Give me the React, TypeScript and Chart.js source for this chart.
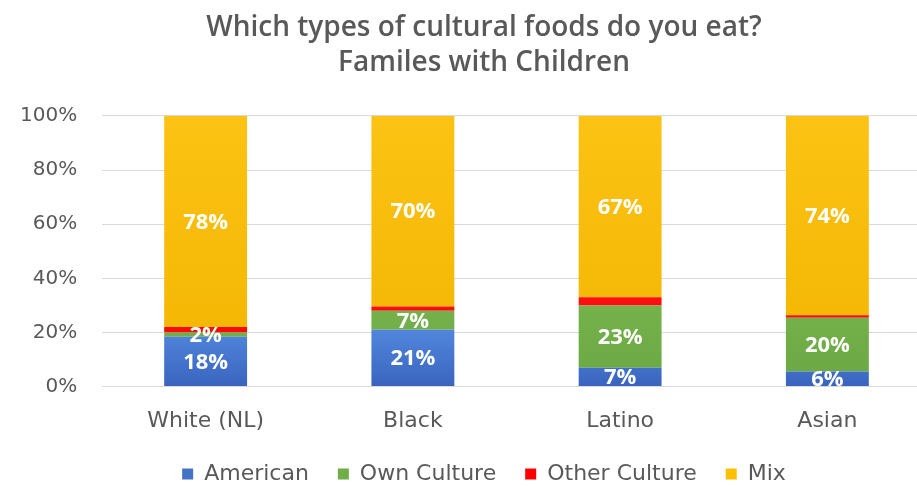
import React, { useEffect, useRef } from "react";
import { Chart, registerables } from "chart.js";

Chart.register(...registerables);

const categories = ["White (NL)", "Black", "Latino", "Asian"];
const seriesNames = ["American", "Own Culture", "Other Culture", "Mix"];
const american = [18.4, 21, 7, 5.6];
const ownCulture = [1.6, 7, 23, 19.8];
const otherCulture = [2, 1.6, 3, 1];
const mix = [78, 70.4, 67, 73.6];
const yTicks = [0, 20, 40, 60, 80, 100];
const titleLines = ["Which types of cultural foods do you eat?", "Familes with Children"];
const showLabel = [true, true, false, true];

const solid = ["#4472C4", "#70AD47", "#FF0000", "#FFC000"];
// gradient stops: [bottom colour, top colour, top fraction of chart height]
const grads: [string, string, number][] = [
  ["#3A64BE", "#5288DE", 0.22],
  ["#6AA843", "#76B24C", 0.32],
  ["#F00000", "#FF1010", 0.35],
  ["#F2B400", "#FCC314", 1],
];

function bg(i: number) {
  return (c: any) => {
    const a = c.chart.chartArea;
    if (!a) return solid[i];
    const g = c.chart.ctx.createLinearGradient(0, a.bottom, 0, a.bottom - (a.bottom - a.top) * grads[i][2]);
    g.addColorStop(0, grads[i][0]);
    g.addColorStop(1, grads[i][1]);
    return g;
  };
}

const labelPlugin = {
  id: "segLabels",
  afterDatasetsDraw(chart: any) {
    const ctx = chart.ctx;
    ctx.save();
    ctx.font = "bold 22px 'Open Sans'";
    ctx.fillStyle = "#FFFFFF";
    ctx.textAlign = "center";
    ctx.textBaseline = "middle";
    chart.data.datasets.forEach((ds: any, di: number) => {
      if (!showLabel[di]) return;
      const meta = chart.getDatasetMeta(di);
      meta.data.forEach((bar: any, i: number) => {
        const v = ds.data[i];
        const y = (bar.y + bar.base) / 2;
        ctx.fillText(Math.round(v) + "%", bar.x, y + 1);
      });
    });
    ctx.restore();
  },
};

export default function App() {
  const ref = useRef<HTMLCanvasElement>(null);
  useEffect(() => {
    document.body.style.margin = "0";
    const series = [american, ownCulture, otherCulture, mix];
    const chart = new Chart(ref.current!, {
      type: "bar",
      data: {
        labels: categories,
        datasets: seriesNames.map((n, i) => ({
          label: n,
          data: series[i],
          backgroundColor: bg(i),
          borderWidth: 0,
          categoryPercentage: 1,
          barPercentage: 0.4,
        })),
      },
      options: {
        animation: false,
        responsive: false,
        devicePixelRatio: 1,
        layout: { padding: { left: 37, right: 41, top: 11, bottom: 0 } },
        plugins: {
          title: {
            display: true,
            text: titleLines,
            color: "#595959",
            font: { family: "'Open Sans'", size: 28, weight: "600", lineHeight: 1.23 },
            padding: { top: 0, bottom: 36 },
          },
          legend: {
            position: "bottom",
            labels: {
              color: "#595959",
              font: { family: "'DejaVu Sans'", size: 22 },
              boxWidth: 11,
              boxHeight: 11,
              padding: 29,
              generateLabels: (chart: any) =>
                chart.data.datasets.map((ds: any, i: number) => ({
                  text: ds.label,
                  fillStyle: solid[i],
                  strokeStyle: solid[i],
                  lineWidth: 0,
                  fontColor: "#595959",
                  datasetIndex: i,
                  hidden: false,
                })),
            },
          },
          tooltip: { enabled: false },
        },
        scales: {
          x: {
            stacked: true,
            grid: { display: false, drawTicks: true, tickLength: 21, tickColor: "rgba(0,0,0,0)" },
            border: { display: true, color: "#D9D9D9" },
            ticks: { color: "#595959", font: { family: "'DejaVu Sans'", size: 22 }, padding: 0 },
          },
          y: {
            stacked: true,
            min: 0,
            max: 100,
            afterBuildTicks: (axis: any) => {
              axis.ticks = yTicks.map((v) => ({ value: v }));
            },
            afterFit: (axis: any) => {
              axis.width = 65;
            },
            grid: { color: "#D9D9D9", drawTicks: false },
            border: { display: false },
            ticks: {
              color: "#595959",
              font: { family: "'DejaVu Sans'", size: 20 },
              mirror: true,
              crossAlign: "far",
              padding: -82,
              callback: (v: any) => v + "%",
            },
          },
        },
      },
      plugins: [labelPlugin],
    });
    return () => chart.destroy();
  }, []);
  return (
    <div style={{ position: "fixed", left: 0, top: 0, width: 917, height: 486, overflow: "hidden", background: "#fff" }}>
      <canvas ref={ref} width={972} height={495} />
    </div>
  );
}
